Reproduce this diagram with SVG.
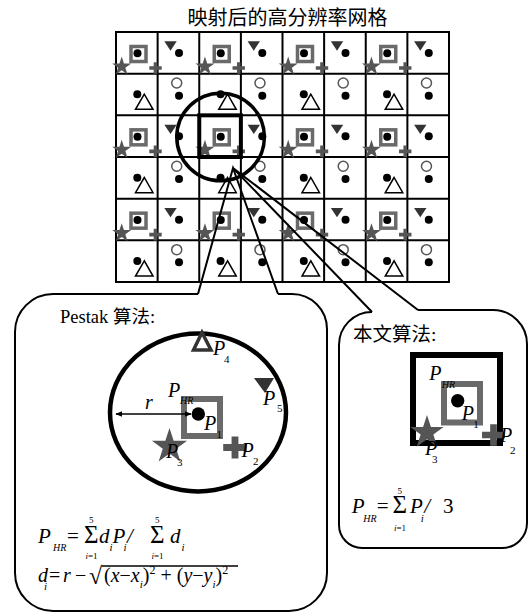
<svg xmlns="http://www.w3.org/2000/svg" xmlns:xlink="http://www.w3.org/1999/xlink" width="529" height="613" viewBox="0 0 529 613">
<style>
.t{font-family:"Liberation Serif","Noto Sans CJK SC",serif;fill:#000}
.cjk{font-family:"Liberation Serif","Noto Sans CJK SC",serif;fill:#000}
.i{font-style:italic}
.gl{stroke:#000;stroke-width:2;fill:none}
.ln{stroke:#000;stroke-width:2;fill:none}
.gsq{fill:none;stroke:#6a6a6a}
.star{fill:#555}
.plus{fill:#555}
.tri{fill:#333}
</style>
<defs>
<polygon id="star" points="0,-10 2.245,-3.09 9.511,-3.09 3.633,1.18 5.878,8.09 0,3.82 -5.878,8.09 -3.633,1.18 -9.511,-3.09 -2.245,-3.09"/>
<path id="plus" d="M-6.2,-1.8H-1.8V-5.8H1.8V-1.8H6.2V1.8H1.8V5.8H-1.8V1.8H-6.2Z"/>
<g id="cA">
<rect class="gsq" x="15" y="14.5" width="15" height="15" stroke-width="3.5"/>
<circle cx="21.5" cy="21.3" r="4"/>
<use xlink:href="#star" class="star" x="5.7" y="34.5"/>
<use xlink:href="#plus" class="plus" x="39.5" y="36"/>
</g>
<g id="cB">
<polygon class="tri" points="6.7,9.3 19.1,9.3 12.9,18.7"/>
<circle cx="21.4" cy="21" r="4"/>
</g>
<g id="cC">
<circle cx="21.3" cy="20.7" r="4"/>
<polygon points="28.3,20.5 19.5,35.7 37,35.7" fill="none" stroke="#000" stroke-width="1.5"/>
</g>
<g id="cD">
<circle cx="19.1" cy="9.3" r="5" fill="none" stroke="#555" stroke-width="1.5"/>
<circle cx="21.4" cy="22" r="4"/>
</g>
<marker id="ah" viewBox="0 0 10 10" refX="9" refY="5" markerWidth="7" markerHeight="7" orient="auto-start-reverse" markerUnits="userSpaceOnUse">
<path d="M0,1 L10,5 L0,9 Z" fill="#000"/>
</marker>
</defs>

<text class="cjk" x="287.5" y="25" font-size="20" text-anchor="middle">映射后的高分辨率网格</text>

<g id="grid">
<path class="gl" d="M116,32H449V282H116Z M157.625,32V282 M199.25,32V282 M240.875,32V282 M282.5,32V282 M324.125,32V282 M365.75,32V282 M407.375,32V282 M116,73.667H449 M116,115.333H449 M116,157H449 M116,198.667H449 M116,240.333H449"/>
<use xlink:href="#cA" x="116" y="32"/><use xlink:href="#cB" x="157.625" y="32"/><use xlink:href="#cA" x="199.25" y="32"/><use xlink:href="#cB" x="240.875" y="32"/><use xlink:href="#cA" x="282.5" y="32"/><use xlink:href="#cB" x="324.125" y="32"/><use xlink:href="#cA" x="365.75" y="32"/><use xlink:href="#cB" x="407.375" y="32"/>
<use xlink:href="#cC" x="116" y="73.667"/><use xlink:href="#cD" x="157.625" y="73.667"/><use xlink:href="#cC" x="199.25" y="73.667"/><use xlink:href="#cD" x="240.875" y="73.667"/><use xlink:href="#cC" x="282.5" y="73.667"/><use xlink:href="#cD" x="324.125" y="73.667"/><use xlink:href="#cC" x="365.75" y="73.667"/><use xlink:href="#cD" x="407.375" y="73.667"/>
<use xlink:href="#cA" x="116" y="115.333"/><use xlink:href="#cB" x="157.625" y="115.333"/><use xlink:href="#cA" x="199.25" y="115.333"/><use xlink:href="#cB" x="240.875" y="115.333"/><use xlink:href="#cA" x="282.5" y="115.333"/><use xlink:href="#cB" x="324.125" y="115.333"/><use xlink:href="#cA" x="365.75" y="115.333"/><use xlink:href="#cB" x="407.375" y="115.333"/>
<use xlink:href="#cC" x="116" y="157"/><use xlink:href="#cD" x="157.625" y="157"/><use xlink:href="#cC" x="199.25" y="157"/><use xlink:href="#cD" x="240.875" y="157"/><use xlink:href="#cC" x="282.5" y="157"/><use xlink:href="#cD" x="324.125" y="157"/><use xlink:href="#cC" x="365.75" y="157"/><use xlink:href="#cD" x="407.375" y="157"/>
<use xlink:href="#cA" x="116" y="198.667"/><use xlink:href="#cB" x="157.625" y="198.667"/><use xlink:href="#cA" x="199.25" y="198.667"/><use xlink:href="#cB" x="240.875" y="198.667"/><use xlink:href="#cA" x="282.5" y="198.667"/><use xlink:href="#cB" x="324.125" y="198.667"/><use xlink:href="#cA" x="365.75" y="198.667"/><use xlink:href="#cB" x="407.375" y="198.667"/>
<use xlink:href="#cC" x="116" y="240.333"/><use xlink:href="#cD" x="157.625" y="240.333"/><use xlink:href="#cC" x="199.25" y="240.333"/><use xlink:href="#cD" x="240.875" y="240.333"/><use xlink:href="#cC" x="282.5" y="240.333"/><use xlink:href="#cD" x="324.125" y="240.333"/><use xlink:href="#cC" x="365.75" y="240.333"/><use xlink:href="#cD" x="407.375" y="240.333"/>
<rect x="199.25" y="115.333" width="41.625" height="41.667" fill="none" stroke="#000" stroke-width="4"/>
<circle cx="220.6" cy="137" r="43.8" fill="none" stroke="#000" stroke-width="3.5"/>
</g>

<g id="connectors">
<polyline class="ln" points="198,294 233,168 278,294"/>
<polyline class="ln" points="372,312 233,168 418,310"/>
</g>

<g id="pestak">
<path class="ln" d="M198,294 H53 A38,38 0 0 0 15,332 V573 A38,38 0 0 0 53,611 H289 A38,38 0 0 0 327,573 V329 A35,35 0 0 0 292,294 H278"/>
<text class="t" x="60" y="323" font-size="18.5">Pestak 算法:</text>
<ellipse cx="198" cy="412.5" rx="88" ry="79" fill="none" stroke="#000" stroke-width="4.5"/>
<polygon points="202,332.5 193.5,350 211,350" fill="none" stroke="#333" stroke-width="3.5" stroke-linejoin="miter"/>
<polygon class="tri" points="254,378 274,378 265,393"/>
<rect class="gsq" x="184" y="399" width="36" height="37" stroke-width="6"/>
<circle cx="198.3" cy="414" r="6.7"/>
<line x1="116" y1="414" x2="191" y2="414" stroke="#000" stroke-width="1.5" marker-start="url(#ah)" marker-end="url(#ah)"/>
<use xlink:href="#star" class="star" transform="translate(169.5,446.5) scale(1.85)"/>
<use xlink:href="#plus" class="plus" transform="translate(235,447.5) scale(1.9)"/>
<g class="t i" font-size="20">
<text x="145" y="409">r</text>
<text x="213" y="355">P</text>
<text x="263" y="405">P</text>
<text x="168" y="397">P</text>
<text x="204" y="430">P</text>
<text x="166" y="458">P</text>
<text x="241.5" y="457">P</text>
</g>
<g class="t" font-size="11">
<text x="224" y="363">4</text>
<text x="277" y="412">5</text>
<text class="i" x="180" y="403.5" font-size="10">HR</text>
<text x="216.5" y="438">1</text>
<text x="177" y="466">3</text>
<text x="253" y="465">2</text>
</g>
<g class="t" font-size="21">
<text class="i" x="38" y="543">P</text>
<text class="i" x="53" y="551" font-size="10">HR</text>
<text x="67" y="543">=</text>
<text x="84" y="543" font-size="25">Σ</text>
<text x="89" y="523" font-size="9">5</text>
<text x="85.5" y="559" font-size="9"><tspan class="i">i</tspan>=1</text>
<text class="i" x="99" y="543">d</text>
<text class="i" x="109.5" y="551" font-size="11">i</text>
<text class="i" x="112.5" y="543">P</text>
<text class="i" x="123.5" y="551" font-size="11">i</text>
<text class="i" x="127" y="543">/</text>
<text x="150" y="543" font-size="25">Σ</text>
<text x="155" y="523" font-size="9">5</text>
<text x="151.5" y="559" font-size="9"><tspan class="i">i</tspan>=1</text>
<text class="i" x="170" y="543">d</text>
<text class="i" x="181.5" y="551" font-size="11">i</text>
</g>
<g class="t" font-size="20">
<text class="i" x="38" y="582">d</text>
<text class="i" x="44" y="590" font-size="11">i</text>
<text x="49" y="582">=</text>
<text class="i" x="63" y="582">r</text>
<text x="75" y="582">−</text>
<text x="89" y="584" font-size="24">√</text>
<line x1="102" y1="566" x2="238" y2="566" stroke="#000" stroke-width="1.3"/>
<text x="104" y="582">(<tspan class="i">x</tspan>−<tspan class="i">x</tspan><tspan class="i" font-size="11" dy="6">i</tspan><tspan dy="-6">)</tspan><tspan font-size="12" dy="-8">2</tspan><tspan dy="8"> + (</tspan><tspan class="i">y</tspan>−<tspan class="i">y</tspan><tspan class="i" font-size="11" dy="6">i</tspan><tspan dy="-6">)</tspan><tspan font-size="12" dy="-8">2</tspan></text>
</g>
</g>

<g id="benwen">
<path class="ln" d="M418,310 H493 A34,34 0 0 1 527,344 V523 A25,25 0 0 1 502,548 H362 A23,23 0 0 1 339,525 V345 A33,33 0 0 1 372,312"/>
<text class="cjk" x="353" y="341" font-size="19.5">本文算法:</text>
<rect x="413" y="355" width="87" height="88" fill="none" stroke="#000" stroke-width="6"/>
<rect class="gsq" x="444" y="384" width="36" height="38.5" stroke-width="6"/>
<circle cx="457.7" cy="400.7" r="6.7"/>
<use xlink:href="#star" class="star" transform="translate(427,432.5) scale(1.75)"/>
<use xlink:href="#plus" class="plus" transform="translate(493.5,435) scale(1.85)"/>
<g class="t i" font-size="20">
<text x="429.3" y="380">P</text>
<text x="461.7" y="420">P</text>
<text x="425" y="455">P</text>
<text x="500" y="442">P</text>
</g>
<g class="t" font-size="11">
<text class="i" x="441.7" y="387.5" font-size="10">HR</text>
<text x="473.3" y="427.5">1</text>
<text x="432" y="463">3</text>
<text x="510" y="454">2</text>
</g>
<g class="t" font-size="21">
<text class="i" x="351.7" y="513">P</text>
<text class="i" x="363.3" y="521.7" font-size="10">HR</text>
<text x="376.7" y="513">=</text>
<text x="392.5" y="513" font-size="25">Σ</text>
<text x="397.5" y="494" font-size="9">5</text>
<text x="394" y="531" font-size="9"><tspan class="i">i</tspan>=1</text>
<text class="i" x="410" y="513">P</text>
<text class="i" x="420.7" y="521.7" font-size="11">i</text>
<text class="i" x="424.3" y="513">/</text>
<text x="443" y="513">3</text>
</g>
</g>
</svg>
